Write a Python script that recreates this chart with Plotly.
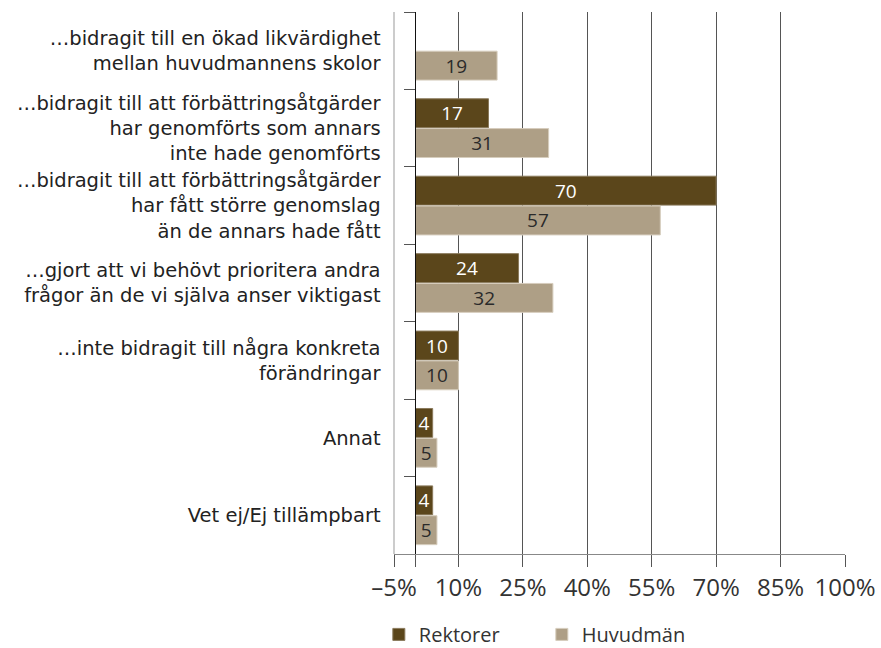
import plotly.graph_objects as go

categories = [
    "…bidragit till en ökad likvärdighet<br>mellan huvudmannens skolor",
    "…bidragit till att förbättringsåtgärder<br>har genomförts som annars<br>inte hade genomförts",
    "…bidragit till att förbättringsåtgärder<br>har fått större genomslag<br>än de annars hade fått",
    "…gjort att vi behövt prioritera andra<br>frågor än de vi själva anser viktigast",
    "…inte bidragit till några konkreta<br>förändringar",
    "Annat",
    "Vet ej/Ej tillämpbart",
]
rektorer = [None, 17, 70, 24, 10, 4, 4]
huvudman = [19, 31, 57, 32, 10, 5, 5]

x_tickvals = [-5, 0, 10, 25, 40, 55, 70, 85, 100]
x_ticktext = ["–5%", "", "10%", "25%", "40%", "55%", "70%", "85%", "100%"]
x_range = [-5, 100]

DARK = "#5b461b"
LIGHT = "#ae9f86"
FONT = "Open Sans"
LABEL_FONT = "DejaVu Sans"

fig = go.Figure()
fig.add_trace(go.Bar(
    name="Rektorer", y=categories, x=rektorer, orientation="h",
    marker=dict(color=DARK, line=dict(color="#8a7a5c", width=1)),
    text=[("" if v is None else str(v)) for v in rektorer],
    textposition="inside", insidetextanchor="middle", textangle=0,
    textfont=dict(color="white", size=19, family=FONT),
    constraintext="none", hoverinfo="skip",
))
fig.add_trace(go.Bar(
    name="Huvudmän", y=categories, x=huvudman, orientation="h",
    marker=dict(color=LIGHT, line=dict(color="#d6cdbd", width=1)),
    text=[str(v) for v in huvudman],
    textposition="inside", insidetextanchor="middle", textangle=0,
    textfont=dict(color="#2a2a2a", size=19, family=FONT),
    constraintext="none", hoverinfo="skip",
))

zero_pos = (0 - x_range[0]) / (x_range[1] - x_range[0])

fig.update_layout(
    width=881, height=648,
    margin=dict(l=394, r=36, t=12, b=94, autoexpand=False),
    paper_bgcolor="white", plot_bgcolor="white",
    barmode="group", bargap=0.23, bargroupgap=0.03,
    font=dict(family=FONT, color="#2a2a2a", size=19),
    showlegend=True,
    legend=dict(
        orientation="h", xref="container", yref="container",
        x=0.430, xanchor="left", y=0.021, yanchor="middle",
        font=dict(size=20, color="#333333", family=FONT),
        entrywidth=118, entrywidthmode="pixels",
        traceorder="normal",
    ),
    xaxis=dict(
        range=x_range, tickvals=x_tickvals, ticktext=x_ticktext,
        showgrid=True, gridcolor="#555555", gridwidth=1,
        zeroline=False, automargin=False,
        showline=True, linecolor="#888888", linewidth=1,
        ticks="outside", ticklen=12, tickcolor="#555555",
        tickfont=dict(size=24, color="#333333", family=FONT),
        fixedrange=True,
    ),
    yaxis=dict(
        autorange="reversed", type="category",
        anchor="free", position=zero_pos, automargin=False,
        showline=True, linecolor="#111111", linewidth=1,
        showgrid=False, zeroline=False,
        ticks="outside", ticklen=11, tickcolor="#555555",
        tickson="boundaries", ticklabelstandoff=31,
        tickfont=dict(size=19.5, color="#222222", family=LABEL_FONT),
        fixedrange=True,
    ),
    shapes=[dict(type="line", xref="x domain", yref="y domain",
                 x0=0, x1=0, y0=0, y1=1,
                 line=dict(color="#999999", width=1), layer="above")],
)

fig.write_html("out.html", post_script="document.body.style.margin='0';",
               config={"displayModeBar": False})
